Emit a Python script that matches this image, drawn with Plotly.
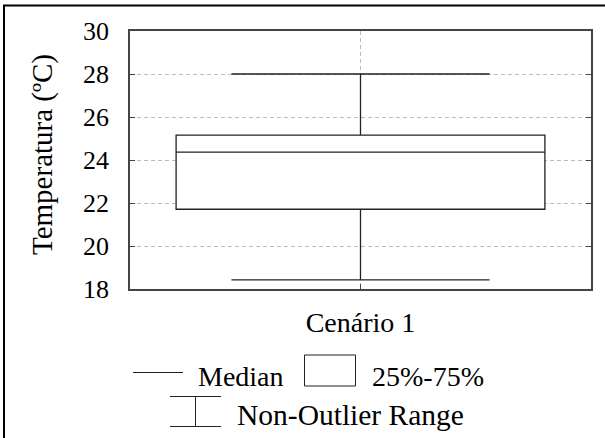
import plotly.graph_objects as go

# ---- data ----
categories = ["Cenário 1"]
q1_values = [21.71]
median_values = [24.37]
q3_values = [25.16]
lower_values = [18.42]
upper_values = [28.0]
y_tick_values = [18, 20, 22, 24, 26, 28, 30]
y_title = "Temperatura (ºC)"
legend_labels = ["Median", "25%-75%", "Non-Outlier Range"]

W, H = 605, 438
ML, MR, MT, MB = 130, 14, 31, 149
PW, PH = W - ML - MR, H - MT - MB
FONT = "Liberation Serif"


def px(x):
    return (x - ML) / PW


def py(y):
    return (H - MB - y) / PH


fig = go.Figure()
fig.add_trace(go.Box(
    x=categories,
    q1=q1_values, median=median_values, q3=q3_values,
    lowerfence=lower_values, upperfence=upper_values,
    width=0.8, whiskerwidth=0.7,
    fillcolor="white",
    line=dict(color="#222222", width=1.3),
    boxpoints=False,
    showlegend=False,
    hoverinfo="skip",
))

shapes = []
annotations = []
# outer frame (top and left edges)
shapes.append(dict(type="line", xref="paper", yref="paper", x0=px(3), x1=px(606),
                   y0=py(5.5), y1=py(5.5), line=dict(color="black", width=2)))
shapes.append(dict(type="line", xref="paper", yref="paper", x0=px(4), x1=px(4),
                   y0=py(5), y1=py(440), line=dict(color="black", width=2)))

# legend: median
shapes.append(dict(type="line", xref="paper", yref="paper", x0=px(133), x1=px(183),
                   y0=py(372.5), y1=py(372.5), line=dict(color="#222", width=1)))
annotations.append(dict(text=legend_labels[0], xref="paper", yref="paper",
                        x=px(196), y=py(376), xanchor="left", yanchor="middle",
                        showarrow=False, font=dict(family=FONT, size=28, color="black")))
# legend: box
shapes.append(dict(type="rect", xref="paper", yref="paper", x0=px(304.5), x1=px(355.5),
                   y0=py(355), y1=py(386), line=dict(color="#222", width=1),
                   fillcolor="white"))
annotations.append(dict(text=legend_labels[1], xref="paper", yref="paper",
                        x=px(370), y=py(376), xanchor="left", yanchor="middle",
                        showarrow=False, font=dict(family=FONT, size=28, color="black")))
# legend: whisker
for yy in (396.5, 426.5):
    shapes.append(dict(type="line", xref="paper", yref="paper", x0=px(170), x1=px(221),
                       y0=py(yy), y1=py(yy), line=dict(color="#222", width=1)))
shapes.append(dict(type="line", xref="paper", yref="paper", x0=px(195.5), x1=px(195.5),
                   y0=py(396.5), y1=py(426.5), line=dict(color="#222", width=1)))
annotations.append(dict(text=legend_labels[2], xref="paper", yref="paper",
                        x=px(235), y=py(415), xanchor="left", yanchor="middle",
                        showarrow=False, font=dict(family=FONT, size=29.5, color="black")))
# y title
annotations.append(dict(text=y_title, xref="paper", yref="paper",
                        x=px(42), y=py(155), xanchor="center", yanchor="middle",
                        textangle=-90, showarrow=False,
                        font=dict(family=FONT, size=29, color="black")))

fig.update_layout(
    width=W, height=H,
    margin=dict(l=ML, r=MR, t=MT, b=MB, pad=0),
    paper_bgcolor="white", plot_bgcolor="white",
    font=dict(family=FONT, color="black"),
    shapes=shapes, annotations=annotations,
    xaxis=dict(
        type="category", range=[-0.5, 0.5],
        showline=True, linecolor="#444", linewidth=1.5, mirror=True,
        showgrid=True, gridcolor="#bbbbbb", griddash="4px,3px", gridwidth=1,
        ticks="inside", ticklen=5, tickcolor="#444",
        tickfont=dict(family=FONT, size=28, color="black"),
        ticklabelstandoff=8,
        zeroline=False,
    ),
    yaxis=dict(
        range=[18, 30], tickvals=y_tick_values,
        showline=True, linecolor="#444", linewidth=1.5, mirror="ticks",
        showgrid=True, gridcolor="#bbbbbb", griddash="4px,3px", gridwidth=1,
        ticks="inside", ticklen=5, tickcolor="#444",
        tickfont=dict(family=FONT, size=26, color="black"),
        ticklabelstandoff=14,
        zeroline=False,
    ),
)

fig.write_html("out.html")
